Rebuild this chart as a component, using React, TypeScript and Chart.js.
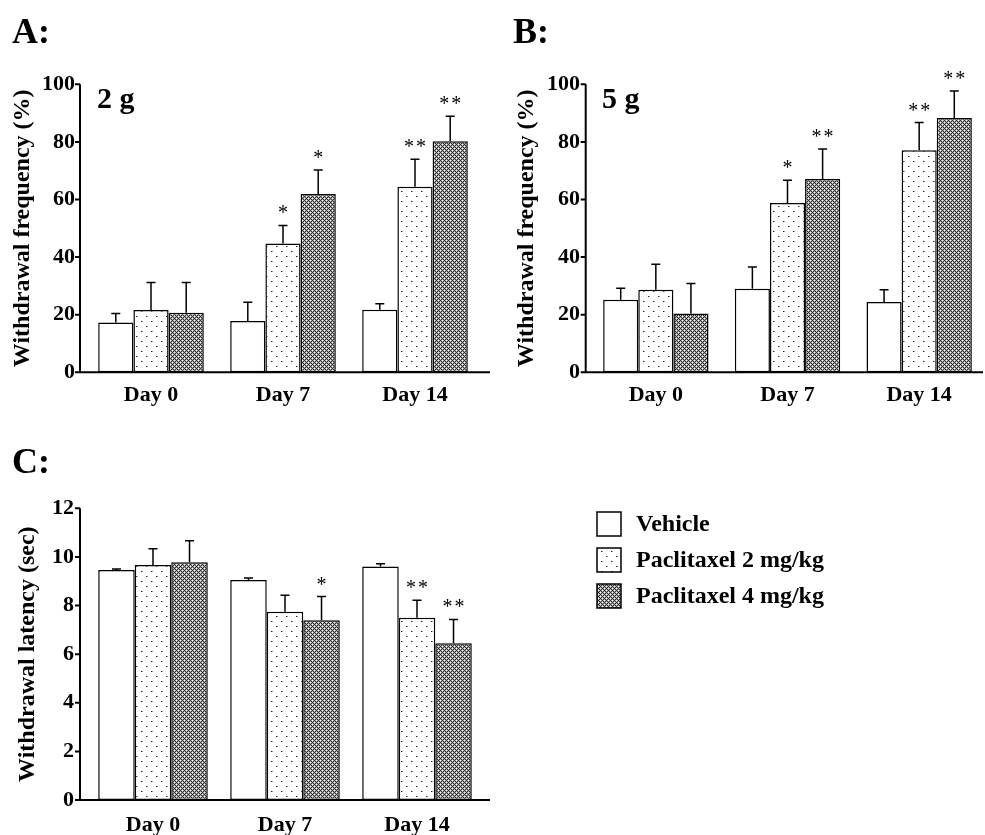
import React, { useEffect, useRef } from 'react';
import { Chart, registerables } from 'chart.js';

Chart.register(...registerables);

// ---------- data ----------
const categories = ['Day 0', 'Day 7', 'Day 14'];
const seriesNames = ['Vehicle', 'Paclitaxel 2 mg/kg', 'Paclitaxel 4 mg/kg'];

// Panel A: 2 g, withdrawal frequency (%)
const aVehicle = [17.3, 17.8, 21.7];
const aVehicleErr = [3.1, 6.5, 2.1];
const aPac2 = [21.6, 44.7, 64.4];
const aPac2Err = [9.6, 6.3, 9.6];
const aPac4 = [20.7, 61.9, 80.2];
const aPac4Err = [10.5, 8.3, 8.7];
const aPac2Stars = ['', '*', '**'];
const aPac4Stars = ['', '*', '**'];

// Panel B: 5 g, withdrawal frequency (%)
const bVehicle = [25.2, 29.0, 24.4];
const bVehicleErr = [4.0, 7.6, 4.3];
const bPac2 = [28.7, 58.8, 77.1];
const bPac2Err = [8.8, 7.9, 9.6];
const bPac4 = [20.4, 67.1, 88.3];
const bPac4Err = [10.4, 10.4, 9.4];
const bPac2Stars = ['', '*', '**'];
const bPac4Stars = ['', '**', '**'];

// Panel C: withdrawal latency (sec)
const cVehicle = [9.46, 9.05, 9.61];
const cVehicleErr = [0.04, 0.08, 0.11];
const cPac2 = [9.67, 7.74, 7.5];
const cPac2Err = [0.67, 0.68, 0.72];
const cPac4 = [9.78, 7.39, 6.45];
const cPac4Err = [0.88, 0.98, 0.98];
const cPac2Stars = ['', '', '**'];
const cPac4Stars = ['', '*', '**'];

const noStars = ['', '', ''];

const freqTicksMax = 100;
const freqTicksStep = 20;
const latTicksMax = 12;
const latTicksStep = 2;

// ---------- styling ----------
const SERIF = "'Liberation Serif', 'Times New Roman', serif";

function makeDotPattern() {
  const c = document.createElement('canvas');
  c.width = 10;
  c.height = 10;
  const g = c.getContext('2d')!;
  g.fillStyle = '#ffffff';
  g.fillRect(0, 0, 10, 10);
  g.fillStyle = '#222222';
  g.fillRect(1, 1, 1, 1);
  g.fillRect(6, 6, 1, 1);
  g.fillStyle = '#999999';
  g.fillRect(2, 1, 1, 1);
  g.fillRect(7, 6, 1, 1);
  return g.createPattern(c, 'repeat')!;
}

function makeHatchPattern() {
  const c = document.createElement('canvas');
  c.width = 4;
  c.height = 4;
  const g = c.getContext('2d')!;
  for (let x = 0; x < 4; x++) {
    for (let y = 0; y < 4; y++) {
      let col = '#a8a8a8';
      if ((x - y + 8) % 4 === 0 || (x + y) % 4 === 0) col = '#303030';
      else if ((x === 2 && y === 0) || (x === 0 && y === 2)) col = '#ffffff';
      g.fillStyle = col;
      g.fillRect(x, y, 1, 1);
    }
  }
  return g.createPattern(c, 'repeat')!;
}

type PanelSpec = {
  canvasLeft: number;
  canvasTop: number;
  canvasW: number;
  canvasH: number;
  area: { left: number; right: number; top: number; bottom: number };
  axisLeftOffset: number;
  axisRightExtend: number;
  yMax: number;
  yStep: number;
  yTitle: string;
  titleX: number;
  tickPad: number;
  xPad: number;
  catPct: number;
  vals: number[][];
  errs: number[][];
  stars: string[][];
  panelLabel: { text: string; x: number; y: number };
  subLabel?: { text: string; x: number; y: number };
  legend?: { x: number; top: number; step: number; box: number; textX: number };
};

function buildConfig(p: PanelSpec) {
  const dot = makeDotPattern();
  const hatch = makeHatchPattern();
  const fills: any[] = ['#ffffff', dot, hatch];

  const deco = {
    id: 'deco',
    afterDatasetsDraw(chart: any) {
      const ctx = chart.ctx;
      const ys = chart.scales.y;
      const ca = chart.chartArea;
      ctx.save();
      // error bars and significance marks
      chart.data.datasets.forEach((ds: any, di: number) => {
        const meta = chart.getDatasetMeta(di);
        meta.data.forEach((bar: any, i: number) => {
          const v = ds.data[i];
          const e = p.errs[di][i];
          const yTop = ys.getPixelForValue(v);
          const yErr = ys.getPixelForValue(v + e);
          ctx.strokeStyle = '#000';
          ctx.lineWidth = 1.5;
          ctx.beginPath();
          ctx.moveTo(bar.x, yTop);
          ctx.lineTo(bar.x, yErr);
          ctx.moveTo(bar.x - 4.5, yErr);
          ctx.lineTo(bar.x + 4.5, yErr);
          ctx.stroke();
          const s = p.stars[di][i];
          if (s) {
            ctx.fillStyle = '#000';
            ctx.font = `20px ${SERIF}`;
            ctx.textAlign = 'center';
            ctx.textBaseline = 'alphabetic';
            const by = yErr - 6;
            if (s.length === 1) {
              ctx.fillText('*', bar.x, by);
            } else {
              ctx.fillText('*', bar.x - 6, by);
              ctx.fillText('*', bar.x + 6, by);
            }
          }
        });
      });
      // axes
      const ax = ca.left + p.axisLeftOffset;
      const y0 = ys.getPixelForValue(0);
      const yM = ys.getPixelForValue(p.yMax);
      ctx.strokeStyle = '#000';
      ctx.lineWidth = 2;
      ctx.beginPath();
      ctx.moveTo(ax, yM);
      ctx.lineTo(ax, y0 + 1);
      ctx.moveTo(ax - 1, y0);
      ctx.lineTo(ca.right + p.axisRightExtend, y0);
      ys.ticks.forEach((t: any) => {
        const ty = ys.getPixelForValue(t.value);
        ctx.moveTo(ax - 5, ty);
        ctx.lineTo(ax, ty);
      });
      ctx.stroke();
      // panel labels
      ctx.fillStyle = '#000';
      ctx.textAlign = 'left';
      ctx.textBaseline = 'alphabetic';
      ctx.font = `bold 36px ${SERIF}`;
      ctx.fillText(p.panelLabel.text, p.panelLabel.x, p.panelLabel.y);
      if (p.subLabel) {
        ctx.font = `bold 30px ${SERIF}`;
        ctx.fillText(p.subLabel.text, p.subLabel.x, p.subLabel.y);
      }
      // legend
      if (p.legend) {
        const L = p.legend;
        seriesNames.forEach((name, i) => {
          const top = L.top + i * L.step;
          ctx.fillStyle = fills[i];
          ctx.fillRect(L.x, top, L.box, L.box);
          ctx.strokeStyle = '#000';
          ctx.lineWidth = 1.5;
          ctx.strokeRect(L.x, top, L.box, L.box);
          ctx.fillStyle = '#000';
          ctx.font = `bold 24px ${SERIF}`;
          ctx.textAlign = 'left';
          ctx.textBaseline = 'middle';
          ctx.fillText(name, L.textX, top + L.box / 2 + 1);
        });
      }
      ctx.restore();
    },
  };

  const tickFont = { family: SERIF, size: 22, weight: 'bold' as const };

  return {
    type: 'bar' as const,
    data: {
      labels: categories,
      datasets: seriesNames.map((name, i) => ({
        label: name,
        data: p.vals[i],
        backgroundColor: fills[i],
        borderColor: '#000',
        borderWidth: 1.5,
        borderSkipped: false,
        categoryPercentage: p.catPct,
        barPercentage: 1.0,
      })),
    },
    options: {
      responsive: false,
      maintainAspectRatio: false,
      animation: false,
      devicePixelRatio: 1,
      layout: {
        padding: {
          left: 0,
          top: p.area.top - p.canvasTop,
          right: p.canvasLeft + p.canvasW - p.area.right,
          bottom: 0,
        },
      },
      plugins: {
        legend: { display: false },
        tooltip: { enabled: false },
      },
      scales: {
        x: {
          type: 'category',
          grid: { display: false, drawTicks: false },
          border: { display: false },
          ticks: { font: tickFont, color: '#000', padding: p.xPad },
          afterFit: (s: any) => {
            s.height = p.canvasTop + p.canvasH - p.area.bottom;
          },
        },
        y: {
          type: 'linear',
          min: 0,
          max: p.yMax,
          grid: { display: false, drawTicks: false },
          border: { display: false },
          ticks: { stepSize: p.yStep, font: tickFont, color: '#000', padding: p.tickPad },
          title: {
            display: true,
            text: p.yTitle,
            color: '#000',
            font: { family: SERIF, size: 24, weight: 'bold' as const },
            padding: { top: p.titleX - 14.4, bottom: 0 },
          },
          afterFit: (s: any) => {
            s.width = p.area.left - p.canvasLeft;
          },
        },
      },
    },
    plugins: [deco],
  };
}

const panelA: PanelSpec = {
  canvasLeft: 0,
  canvasTop: 0,
  canvasW: 492,
  canvasH: 420,
  area: { left: 85, right: 481, top: 84.3, bottom: 372.3 },
  axisLeftOffset: -5,
  axisRightExtend: 9,
  yMax: freqTicksMax,
  yStep: freqTicksStep,
  yTitle: 'Withdrawal frequency (%)',
  titleX: 23,
  tickPad: 10,
  xPad: 10,
  catPct: 0.8,
  vals: [aVehicle, aPac2, aPac4],
  errs: [aVehicleErr, aPac2Err, aPac4Err],
  stars: [noStars, aPac2Stars, aPac4Stars],
  panelLabel: { text: 'A:', x: 12, y: 43 },
  subLabel: { text: '2 g', x: 97, y: 108 },
};

const panelB: PanelSpec = {
  canvasLeft: 492,
  canvasTop: 0,
  canvasW: 493,
  canvasH: 420,
  area: { left: 590, right: 985, top: 84.3, bottom: 372.3 },
  axisLeftOffset: -4.3,
  axisRightExtend: -2,
  yMax: freqTicksMax,
  yStep: freqTicksStep,
  yTitle: 'Withdrawal frequency (%)',
  titleX: 34.7,
  tickPad: 10,
  xPad: 10,
  catPct: 0.8,
  vals: [bVehicle, bPac2, bPac4],
  errs: [bVehicleErr, bPac2Err, bPac4Err],
  stars: [noStars, bPac2Stars, bPac4Stars],
  panelLabel: { text: 'B:', x: 21, y: 43 },
  subLabel: { text: '5 g', x: 110, y: 108 },
};

const panelC: PanelSpec = {
  canvasLeft: 0,
  canvasTop: 430,
  canvasW: 985,
  canvasH: 405,
  area: { left: 87, right: 483, top: 508.3, bottom: 800 },
  axisLeftOffset: -7,
  axisRightExtend: 7,
  yMax: latTicksMax,
  yStep: latTicksStep,
  yTitle: 'Withdrawal latency (sec)',
  titleX: 27.5,
  tickPad: 13,
  xPad: 12,
  catPct: 0.83,
  vals: [cVehicle, cPac2, cPac4],
  errs: [cVehicleErr, cPac2Err, cPac4Err],
  stars: [noStars, cPac2Stars, cPac4Stars],
  panelLabel: { text: 'C:', x: 12, y: 43 },
  legend: { x: 597, top: 82, step: 36, box: 24, textX: 636 },
};

function ChartPanel({ spec }: { spec: PanelSpec }) {
  const ref = useRef<HTMLCanvasElement>(null);
  useEffect(() => {
    const chart = new Chart(ref.current as HTMLCanvasElement, buildConfig(spec) as any);
    return () => chart.destroy();
  }, [spec]);
  return (
    <canvas
      ref={ref}
      width={spec.canvasW}
      height={spec.canvasH}
      style={{
        position: 'absolute',
        left: spec.canvasLeft,
        top: spec.canvasTop,
        width: spec.canvasW,
        height: spec.canvasH,
      }}
    />
  );
}

export default function App() {
  return (
    <div
      style={{
        position: 'fixed',
        left: 0,
        top: 0,
        width: 985,
        height: 835,
        background: '#ffffff',
        overflow: 'hidden',
      }}
    >
      <ChartPanel spec={panelA} />
      <ChartPanel spec={panelB} />
      <ChartPanel spec={panelC} />
    </div>
  );
}
